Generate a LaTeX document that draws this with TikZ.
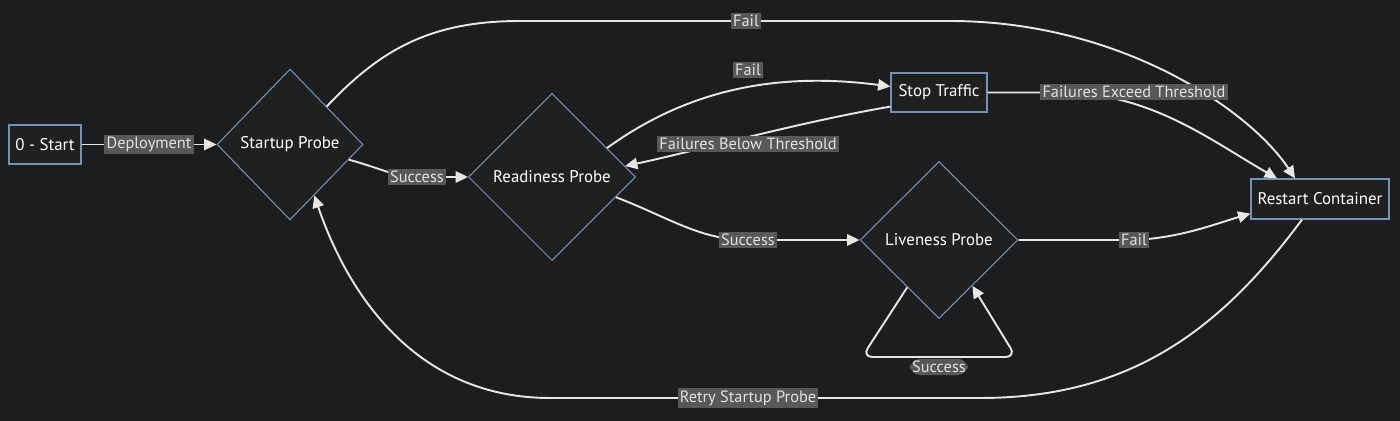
\documentclass[tikz,border=0pt]{standalone}
\usepackage{fontspec}
\setmainfont{PT Sans}
\usetikzlibrary{arrows.meta,positioning,shapes.geometric,calc}
\definecolor{bgdark}{HTML}{1C1D1F}
\definecolor{nodefill}{HTML}{1F2020}
\definecolor{nodeline}{HTML}{7393B4}
\definecolor{edgeline}{HTML}{E6E6E6}
\definecolor{lblfill}{HTML}{585858}
\definecolor{lbltext}{HTML}{E2E2E2}

\begin{document}
\begin{tikzpicture}[x=0.02cm,y=-0.02cm,
  font=\fontsize{9.3}{11}\selectfont,
  box/.style={draw=nodeline,fill=nodefill,text=white,line width=0.7pt,inner sep=0pt,minimum height=0.78cm,font=\fontsize{9.6}{11}\selectfont},
  probe/.style={diamond,draw=nodeline,fill=nodefill,text=white,line width=0.6pt,inner sep=0pt,shape aspect=1,font=\fontsize{9.6}{11}\selectfont},
  lbl/.style={fill=lblfill,text=lbltext,inner sep=1.3pt},
  arr/.style={-{Triangle[length=7pt,width=6.5pt]},draw=edgeline,line width=1.1pt}
]
\fill[bgdark] (0,0) rectangle (1400,421);
\useasboundingbox (0,0) rectangle (1400,421);
\node[box,minimum width=1.44cm] (start) at (45,144.5) {0 - Start};
\node[probe,minimum width=2.92cm,minimum height=3.02cm] (startup) at (290,144.5) {Startup Probe};
\node[probe,minimum width=3.34cm,minimum height=3.34cm] (readiness) at (552,177) {Readiness Probe};
\node[box,minimum width=1.92cm] (stop) at (939,92.5) {Stop Traffic};
\node[probe,minimum width=3.16cm,minimum height=3.14cm] (liveness) at (939,240) {Liveness Probe};
\node[box,minimum width=2.76cm,minimum height=0.8cm] (restart) at (1320,199) {Restart Container};
\draw[arr] (start) -- node[lbl] (ldeploy) {Deployment} (startup);
\draw[arr] ($(startup.east)!0.2!(startup.south)$) .. controls (380,168) and (395,177) .. (417,177) node[lbl] (lsucc1) {Success} -- (readiness.west);
\draw[arr] (startup.north east) .. controls (380,50) and (430,21) .. (520,21) -- (746,21) node[lbl] (lfailtop) {Fail} -- (950,21) .. controls (1120,21) and (1250,110) .. ($(restart.north)+(-25,0)$);
\draw[arr] ($(readiness.north)!0.655!(readiness.east)$) .. controls (690,88) and (780,72) .. ($(stop.west)+(0,-6)$) node[lbl] (lfail2) at (748,70) {Fail};
\draw[arr] ($(stop.south west)+(0,-6)$) .. controls (800,122) and (700,150) .. ($(readiness.north)!0.87!(readiness.east)$) node[lbl] (lbelow) at (748,144) {Failures Below Threshold};
\draw[arr] (stop.east) -- (1060,92.5) .. controls (1150,92.5) and (1210,140) .. ($(restart.north)+(-43,0)$) node[lbl] (lexceed) at (1134,92) {Failures Exceed Threshold};
\draw[arr] ($(readiness.east)!0.24!(readiness.south)$) .. controls (670,218) and (700,240) .. (748,240) node[lbl] (lsucc2) {Success} -- (liveness.west);
\draw[arr] (liveness.east) -- (1134,240) node[lbl] (lfail3) {Fail} .. controls (1180,238) and (1215,224) .. ($(restart.south west)+(0,-6)$);
\draw[arr,rounded corners=6pt] ($(liveness.west)!0.6!(liveness.south)$) -- (862,357) -- (1016,357) -- ($(liveness.east)!0.58!(liveness.south)$) node[lbl] (lsucc3) at (939,367) {Success};
\draw[arr] ($(restart.south)+(-18,0)$) .. controls (1220,330) and (1130,398) .. (980,398) -- (748,398) node[lbl] (lretry) {Retry Startup Probe} -- (550,398) .. controls (420,398) and (350,300) .. ($(startup.south)!0.33!(startup.east)$);
\end{tikzpicture}
\end{document}
